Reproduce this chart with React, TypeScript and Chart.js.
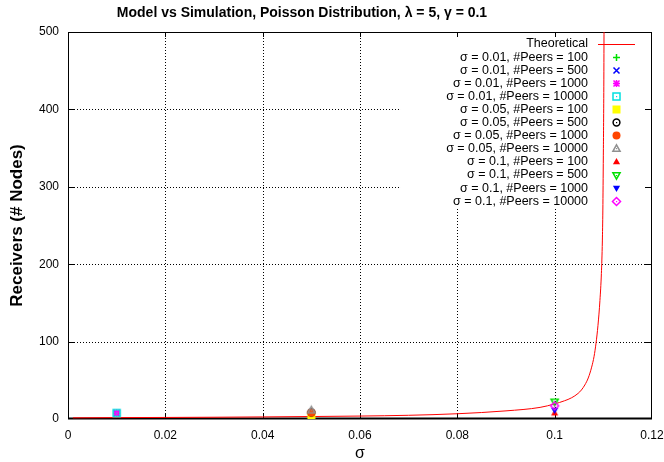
import React, { useEffect, useRef } from "react";
import { Chart, registerables } from "chart.js";

Chart.register(...registerables);

// ---------- data ----------
const theoSigma = [
  0.001, 0.01, 0.02, 0.03, 0.04, 0.05, 0.06, 0.07, 0.08, 0.09, 0.097, 0.1,
  0.102, 0.1035, 0.1048, 0.1055, 0.1062, 0.1069, 0.1076, 0.1081, 0.1085,
  0.1089, 0.1093, 0.1096, 0.1098, 0.1099, 0.11, 0.1101, 0.11015,
];
const theoReceivers = [
  1.5, 1.8, 2.0, 2.3, 2.7, 3.2, 3.8, 4.8, 6.8, 10.5, 15, 19.5,
  23.5, 27.5, 33, 37.5, 44, 53, 67, 81, 98,
  121, 153, 188, 230, 270, 340, 430, 520,
];

const simLabels = [
  "σ = 0.01, #Peers = 100",
  "σ = 0.01, #Peers = 500",
  "σ = 0.01, #Peers = 1000",
  "σ = 0.01, #Peers = 10000",
  "σ = 0.05, #Peers = 100",
  "σ = 0.05, #Peers = 500",
  "σ = 0.05, #Peers = 1000",
  "σ = 0.05, #Peers = 10000",
  "σ = 0.1, #Peers = 100",
  "σ = 0.1, #Peers = 500",
  "σ = 0.1, #Peers = 1000",
  "σ = 0.1, #Peers = 10000",
];
const simSigma = [0.01, 0.01, 0.01, 0.01, 0.05, 0.05, 0.05, 0.05, 0.1, 0.1, 0.1, 0.1];
const simReceivers = [7.5, 7.5, 8, 7.6, 4.5, 8.5, 8, 11.5, 8, 22, 11, 17];
const simColors = [
  "#00e000", "#0000ff", "#ff00ff", "#00e0e0",
  "#ffff00", "#000000", "#ff4500", "#909090",
  "#ff0000", "#00e000", "#0000ff", "#ff00ff",
];
const simMarkers = [
  "plus", "cross", "star", "boxDot",
  "boxFill", "circleDot", "circleFill", "triDot",
  "triFill", "itriDot", "itriFill", "diamondDot",
];

const xTickValues = [0, 0.02, 0.04, 0.06, 0.08, 0.1, 0.12];
const yTickValues = [0, 100, 200, 300, 400, 500];

const titleText = "Model vs Simulation, Poisson Distribution, λ = 5, γ = 0.1";
const yTitleText = "Receivers (# Nodes)";
const xTitleText = "σ";
const theoLabel = "Theoretical";

const FONT = "'Liberation Sans', Arial, Helvetica, sans-serif";

// ---------- marker images ----------
function makeMarker(kind: string, color: string): HTMLCanvasElement {
  const c = document.createElement("canvas");
  c.width = 13;
  c.height = 13;
  const g = c.getContext("2d") as CanvasRenderingContext2D;
  g.strokeStyle = color;
  g.fillStyle = color;
  g.lineWidth = 1.5;
  const m = 6.5;
  const dot = () => g.fillRect(6, 6, 1.2, 1.2);
  const tri = (inv: boolean) => {
    g.beginPath();
    if (!inv) {
      g.moveTo(m, m - 3.6);
      g.lineTo(m + 3.6, m + 2.8);
      g.lineTo(m - 3.6, m + 2.8);
    } else {
      g.moveTo(m, m + 3.6);
      g.lineTo(m + 3.6, m - 2.8);
      g.lineTo(m - 3.6, m - 2.8);
    }
    g.closePath();
  };
  switch (kind) {
    case "plus":
      g.beginPath();
      g.moveTo(m - 3.5, m); g.lineTo(m + 3.5, m);
      g.moveTo(m, m - 3.5); g.lineTo(m, m + 3.5);
      g.stroke();
      break;
    case "cross":
      g.beginPath();
      g.moveTo(m - 3, m - 3); g.lineTo(m + 3, m + 3);
      g.moveTo(m + 3, m - 3); g.lineTo(m - 3, m + 3);
      g.stroke();
      break;
    case "star":
      g.beginPath();
      g.moveTo(m - 3.5, m); g.lineTo(m + 3.5, m);
      g.moveTo(m, m - 3.5); g.lineTo(m, m + 3.5);
      g.moveTo(m - 3, m - 3); g.lineTo(m + 3, m + 3);
      g.moveTo(m + 3, m - 3); g.lineTo(m - 3, m + 3);
      g.stroke();
      break;
    case "boxDot":
      g.strokeRect(3, 3, 7, 7);
      dot();
      break;
    case "boxFill":
      g.fillRect(2.5, 2.5, 8, 8);
      break;
    case "circleDot":
      g.beginPath();
      g.arc(m, m, 3.4, 0, Math.PI * 2);
      g.stroke();
      dot();
      break;
    case "circleFill":
      g.beginPath();
      g.arc(m, m, 4, 0, Math.PI * 2);
      g.fill();
      break;
    case "triDot":
      tri(false); g.stroke(); dot();
      break;
    case "triFill":
      tri(false); g.fill();
      break;
    case "itriDot":
      tri(true); g.stroke(); dot();
      break;
    case "itriFill":
      tri(true); g.fill();
      break;
    case "diamondDot":
      g.beginPath();
      g.moveTo(m, m - 4); g.lineTo(m + 4, m);
      g.lineTo(m, m + 4); g.lineTo(m - 4, m);
      g.closePath();
      g.stroke();
      dot();
      break;
  }
  return c;
}

// ---------- plugins ----------
const framePlugin = {
  id: "gnuFrame",
  beforeDatasetsDraw(chart: any) {
    const { ctx, chartArea: a, scales } = chart;
    const xs = scales.x;
    const ys = scales.y;
    ctx.save();
    // dotted grid
    ctx.strokeStyle = "#000";
    ctx.lineWidth = 1;
    ctx.setLineDash([1, 2]);
    ctx.beginPath();
    for (const v of xTickValues.slice(1, -1)) {
      const px = Math.round(xs.getPixelForValue(v)) + 0.5;
      ctx.moveTo(px, a.top);
      ctx.lineTo(px, a.bottom);
    }
    for (const v of yTickValues.slice(1, -1)) {
      const py = Math.round(ys.getPixelForValue(v)) + 0.5;
      ctx.moveTo(a.left, py);
      ctx.lineTo(a.right, py);
    }
    ctx.stroke();
    ctx.setLineDash([]);
    // opaque key box
    ctx.fillStyle = "#fff";
    ctx.fillRect(a.left + 333, a.top + 1, a.right - (a.left + 333) - 1, 175);
    // frame
    ctx.strokeStyle = "#000";
    ctx.lineWidth = 1;
    ctx.strokeRect(Math.round(a.left) + 0.5, Math.round(a.top) + 0.5, Math.round(a.width) - 1, Math.round(a.height) - 1);
    ctx.lineWidth = 2;
    ctx.beginPath();
    ctx.moveTo(a.left, Math.round(a.bottom) - 0.5);
    ctx.lineTo(a.right, Math.round(a.bottom) - 0.5);
    ctx.stroke();
    // inward ticks
    ctx.lineWidth = 1;
    ctx.beginPath();
    for (const v of xTickValues.slice(1, -1)) {
      const px = Math.round(xs.getPixelForValue(v)) + 0.5;
      ctx.moveTo(px, a.bottom);
      ctx.lineTo(px, a.bottom - 5);
      ctx.moveTo(px, a.top);
      ctx.lineTo(px, a.top + 5);
    }
    for (const v of yTickValues.slice(1, -1)) {
      const py = Math.round(ys.getPixelForValue(v)) + 0.5;
      ctx.moveTo(a.left, py);
      ctx.lineTo(a.left + 7, py);
      ctx.moveTo(a.right, py);
      ctx.lineTo(a.right - 7, py);
    }
    ctx.stroke();
    ctx.restore();
  },
  afterDraw(chart: any) {
    const { ctx, chartArea: a } = chart;
    ctx.save();
    ctx.fillStyle = "#000";
    // title
    ctx.font = `bold 14px ${FONT}`;
    ctx.textAlign = "center";
    ctx.textBaseline = "middle";
    ctx.fillText(titleText, 302, 13);
    // x title
    ctx.font = `16px ${FONT}`;
    ctx.fillText(xTitleText, (a.left + a.right) / 2, 454);
    // y title
    ctx.save();
    ctx.translate(17, (a.top + a.bottom) / 2);
    ctx.rotate(-Math.PI / 2);
    ctx.font = `bold 17px ${FONT}`;
    ctx.fillText(yTitleText, 0, 0);
    ctx.restore();
    // key
    ctx.font = `12.5px ${FONT}`;
    ctx.textAlign = "right";
    const rowH = 13.1;
    const ds = chart.data.datasets;
    for (let i = 0; i < ds.length; i++) {
      const ry = a.top + 12 + i * rowH;
      ctx.fillStyle = "#000";
      ctx.fillText(ds[i].label, a.left + 520, ry);
      const sx = a.left + 548;
      if (i === 0) {
        ctx.strokeStyle = ds[i].borderColor;
        ctx.lineWidth = 1;
        ctx.beginPath();
        ctx.moveTo(sx - 18, Math.round(ry) + 0.5);
        ctx.lineTo(sx + 19, Math.round(ry) + 0.5);
        ctx.stroke();
      } else {
        const img = ds[i].pointStyle as HTMLCanvasElement;
        ctx.drawImage(img, Math.round(sx - img.width / 2), Math.round(ry - img.height / 2));
      }
    }
    ctx.restore();
  },
};

export default function App() {
  const canvasRef = useRef<HTMLCanvasElement | null>(null);

  useEffect(() => {
    document.body.style.margin = "0";
    const canvas = canvasRef.current;
    if (!canvas) return;

    const datasets: any[] = [
      {
        label: theoLabel,
        data: theoSigma.map((s, i) => ({ x: s, y: theoReceivers[i] })),
        showLine: true,
        borderColor: "#ff0000",
        backgroundColor: "#ff0000",
        borderWidth: 1,
        pointRadius: 0,
        cubicInterpolationMode: "monotone",
        order: 0,
      },
      ...simLabels.map((label, i) => ({
        label,
        data: [{ x: simSigma[i], y: simReceivers[i] }],
        pointStyle: makeMarker(simMarkers[i], simColors[i]),
        pointRadius: 4,
        borderColor: simColors[i],
        backgroundColor: simColors[i],
        showLine: false,
        order: -(i + 1),
      })),
    ];

    const chart = new Chart(canvas, {
      type: "scatter",
      data: { datasets },
      options: {
        animation: false,
        responsive: true,
        maintainAspectRatio: false,
        layout: { padding: { top: 32, right: 12, left: 0, bottom: 0 } },
        plugins: {
          legend: { display: false },
          title: { display: false },
          tooltip: { enabled: false },
        },
        scales: {
          x: {
            type: "linear",
            min: 0,
            max: 0.12,
            grid: { display: false, drawTicks: false },
            border: { display: false },
            afterFit: (s: any) => {
              s.height = 43;
              s.paddingLeft = 0;
              s.paddingRight = 0;
            },
            afterBuildTicks: (s: any) => {
              s.ticks = xTickValues.map((v) => ({ value: v }));
            },
            ticks: {
              color: "#000",
              font: { family: FONT, size: 12 },
              padding: 9,
              maxRotation: 0,
              callback: (v: any) => String(Number(v.toFixed(2))),
            },
          },
          y: {
            type: "linear",
            min: 0,
            max: 500,
            grid: { display: false, drawTicks: false },
            border: { display: false },
            afterFit: (s: any) => {
              s.width = 68;
              s.paddingTop = 0;
              s.paddingBottom = 0;
            },
            afterBuildTicks: (s: any) => {
              s.ticks = yTickValues.map((v) => ({ value: v }));
            },
            ticks: {
              color: "#000",
              font: { family: FONT, size: 12 },
              padding: 9,
            },
          },
        },
      },
      plugins: [framePlugin],
    });

    return () => chart.destroy();
  }, []);

  return (
    <div style={{ width: 664, height: 462, position: "relative", background: "#fff" }}>
      <canvas ref={canvasRef} />
    </div>
  );
}
